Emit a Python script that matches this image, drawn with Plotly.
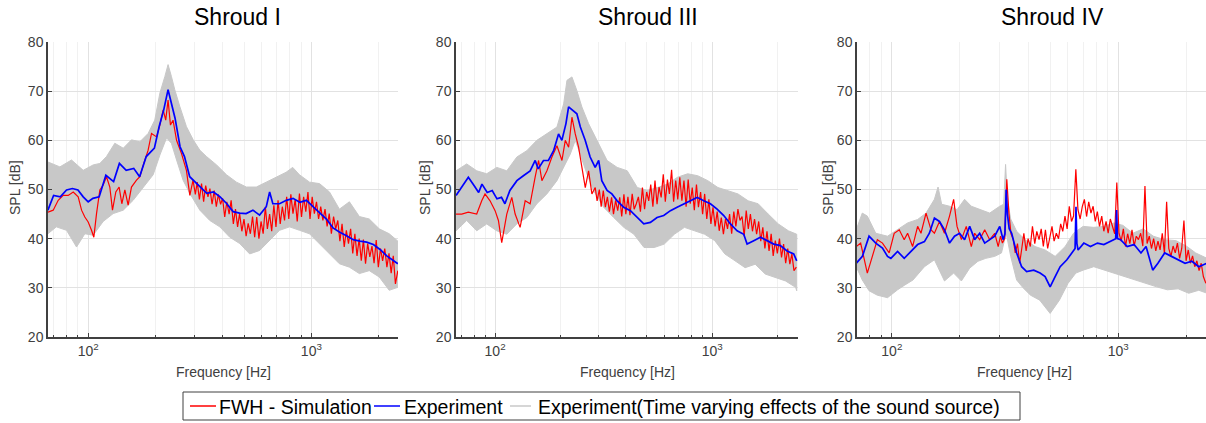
import plotly.graph_objects as go

# ---------------- data ----------------
# shared high-frequency sampling used for the dense simulation curves [Hz]
F_HF = [295, 302, 308, 315, 322, 329, 336, 344, 351, 359,
        367, 375, 383, 392, 400, 409, 418, 428, 437, 447,
        457, 467, 477, 488, 499, 510, 521, 533, 545, 557,
        569, 582, 595, 608, 622, 635, 650, 664, 679, 694,
        709, 725, 741, 758, 775, 792, 809, 827, 846, 864,
        884, 903, 923, 944, 965, 986, 1008, 1031, 1054, 1077,
        1101, 1126, 1151, 1176, 1202, 1229, 1257, 1285, 1313, 1342,
        1372, 1403, 1434, 1466, 1499, 1532, 1566, 1601, 1637, 1673,
        1710, 1748, 1787, 1827, 1868, 1909, 1952, 1995, 2040, 2085,
        2131, 2179, 2227, 2277, 2327, 2379, 2440]

# ---- Shroud I ----
F1_RED_LF = [66, 69.7, 73.4, 77.3, 81.4, 85.7, 90.2, 93.4, 96.6, 100,
             103.5, 106, 109, 112.8, 116.7, 120.8, 125, 128.5, 133, 137.6,
             141.5, 146, 151, 156.3, 164.6, 170.4, 177.5, 185.6, 192.2, 202.5,
             209.5, 216.8, 222.5, 228, 233.7, 240, 248.9, 261.9, 275.5, 285.4]
V1_RED_LF = [45.4, 45.8, 47.8, 48.8, 48.8, 49.5, 48.5, 45.8, 44.4, 43.4,
             41.7, 40.3, 45.1, 49.9, 50.9, 52.6, 50.5, 45.8, 49.5, 50.5,
             47.1, 49.9, 46.8, 50.5, 51.9, 52.6, 55.3, 58.0, 61.4, 60.7,
             63.1, 66.2, 64.1, 68.2, 63.1, 64.1, 60.0, 57.3, 53.9, 48.8]
V1_RED_HF = [51.9, 49.0, 51.5, 48.0, 51.2, 47.5, 50.8, 48.5, 50.2, 47.0,
             49.8, 46.5, 49.0, 47.0, 48.2, 44.4, 47.5, 45.0, 47.8, 43.0,
             46.0, 42.4, 45.1, 41.5, 44.0, 40.5, 43.1, 41.0, 44.5, 40.3,
             44.4, 40.0, 43.5, 41.0, 46.5, 42.0, 45.0, 41.5, 46.8, 42.4,
             47.8, 43.0, 46.5, 43.7, 48.5, 44.0, 49.0, 45.1, 48.0, 43.5,
             49.2, 44.4, 48.5, 45.5, 49.5, 44.0, 48.5, 45.1, 47.5, 44.0,
             46.5, 43.7, 46.0, 42.5, 45.1, 41.0, 44.5, 42.0, 43.7, 39.5,
             43.0, 38.3, 41.7, 39.0, 42.0, 37.0, 41.0, 36.5, 40.0, 35.5,
             39.8, 34.9, 39.0, 36.3, 38.5, 35.0, 39.7, 34.2, 38.0, 35.5,
             38.0, 34.2, 37.0, 33.0, 36.5, 30.8, 33.5]
F1_BLUE = [66, 70, 75, 80, 85, 90, 95, 100, 105, 112,
           120, 130, 138, 148, 160, 170, 182, 192, 198, 208,
           218, 228, 234, 245, 258, 270, 285, 300, 316, 340,
           364, 390, 418, 446, 477, 510, 547, 586, 628, 650,
           672, 720, 772, 828, 887, 950, 1017, 1090, 1168, 1250,
           1340, 1437, 1540, 1650, 1768, 1895, 2030, 2176, 2300, 2440]
V1_BLUE = [45.8, 48.8, 48.5, 49.9, 50.2, 49.9, 48.5, 47.5, 48.2, 48.5,
           52.9, 51.6, 55.3, 53.9, 54.3, 52.6, 56.7, 57.7, 58.4, 62.8,
           66.2, 70.3, 68.2, 64.5, 58.7, 56.7, 52.6, 51.6, 50.5, 49.2,
           49.5, 48.5, 47.1, 45.5, 45.2, 45.1, 45.8, 44.8, 46.5, 49.5,
           47.1, 47.1, 47.8, 48.2, 47.4, 47.8, 46.5, 45.2, 44.0, 42.2,
           41.3, 40.6, 39.8, 39.5, 39.3, 38.8, 37.8, 36.5, 35.8, 34.9]
F1_HI = [66, 74.7, 84.2, 95, 105.3, 112.8, 120.8, 131.6, 143.6, 156.3,
         170.4, 185.6, 198.7, 209.5, 220.6, 228, 236, 244.3, 257.3, 275.5,
         295.5, 316.4, 339, 376, 416.6, 461.5, 511.3, 566.5, 627.6, 695.3,
         770.3, 824.6, 884, 981, 1087, 1205, 1335, 1480, 1640, 1817,
         2013, 2232, 2440]
V1_HI = [55.6, 54.6, 56.0, 53.9, 55.0, 55.3, 56.7, 59.4, 58.4, 60.1,
         59.7, 61.4, 64.1, 69.6, 73.0, 75.4, 73.0, 70.3, 66.9, 62.8,
         60.1, 58.0, 56.7, 55.0, 53.0, 51.5, 50.5, 50.5, 51.5, 52.5,
         53.5, 54.5, 53.0, 51.5, 51.2, 49.5, 46.0, 47.5, 44.5, 44.0,
         42.0, 41.0, 39.5]
F1_LO = [66, 72, 80, 88.7, 96.6, 105.3, 116.7, 129.4, 143.6, 159,
         176.4, 195.5, 209.5, 224.5, 236, 248.9, 266.2, 285.4, 316.4, 350.6,
         388.8, 430.8, 477.5, 529, 586.4, 650, 720.3, 798.3, 884.7, 980.5,
         1087, 1205, 1335, 1480, 1640, 1817, 2013, 2232, 2440]
V1_LO = [41.0, 42.4, 41.7, 38.3, 41.0, 40.7, 43.5, 45.1, 45.8, 47.8,
         50.5, 53.0, 57.0, 60.5, 59.4, 56.0, 51.9, 49.2, 45.8, 43.7,
         42.4, 40.3, 39.0, 36.9, 37.6, 39.7, 41.7, 42.4, 41.7, 41.0,
         39.0, 36.9, 34.9, 34.2, 32.9, 33.5, 32.2, 29.5, 30.1]

# ---- Shroud III ----
F2_RED_LF = [66.1, 70.2, 75.3, 82.3, 86.8, 89.9, 94.8, 100, 103.6, 107.3,
             113.2, 119.4, 123.7, 130.4, 137.6, 145, 152.9, 158.6, 164.3, 173.3,
             182.7, 192.7, 203.2, 210.5, 218.1, 225.9, 234, 242.4, 251.1, 260.2,
             269.5, 279.2, 289.2]
V2_RED_LF = [45.0, 45.0, 45.4, 45.0, 47.7, 49.1, 47.7, 45.7, 43.7, 39.2,
             45.0, 48.4, 45.0, 42.3, 47.7, 47.1, 52.5, 55.9, 51.8, 53.8,
             56.6, 58.9, 55.9, 60.0, 58.6, 64.7, 61.3, 58.6, 54.5, 50.4,
             53.8, 49.1, 50.4]
V2_RED_HF = [47.7, 50.0, 46.5, 49.8, 46.4, 48.5, 45.5, 48.4, 45.0, 47.8,
             45.7, 48.4, 44.5, 49.0, 45.0, 48.5, 44.8, 49.1, 46.0, 47.1,
             48.5, 45.5, 50.4, 46.0, 49.5, 47.7, 51.0, 46.5, 51.8, 47.0,
             50.5, 48.4, 53.1, 47.5, 52.0, 49.1, 54.0, 47.5, 51.8, 48.0,
             52.5, 47.7, 51.8, 46.5, 52.0, 47.1, 50.4, 45.8, 51.0, 46.4,
             49.5, 45.0, 49.1, 44.0, 48.0, 43.0, 46.4, 42.5, 45.5, 41.6,
             44.3, 40.9, 44.0, 42.0, 45.0, 41.0, 45.5, 42.5, 46.0, 43.7,
             44.5, 40.5, 45.7, 42.0, 45.0, 41.5, 44.0, 40.9, 43.5, 39.5,
             42.3, 38.0, 41.5, 37.5, 41.0, 36.5, 39.6, 37.0, 40.0, 36.2,
             38.9, 35.0, 38.0, 34.8, 36.9, 33.5, 34.2]
F2_BLUE = [66.1, 70.2, 75.3, 80, 84, 87, 92, 97, 102, 107,
           111, 117, 126, 135, 145, 153, 158, 167, 176, 186,
           196, 203, 212, 218, 228, 238, 247, 260, 274, 289,
           300, 310, 328, 345, 365, 391, 420, 451, 484, 519,
           557, 598, 642, 689, 740, 794, 852, 914, 981, 1053,
           1130, 1213, 1302, 1397, 1447, 1553, 1667, 1789, 1920, 2060,
           2211, 2373, 2450]
V2_BLUE = [48.8, 50.5, 52.5, 50.8, 49.4, 51.1, 49.4, 49.8, 48.1, 48.4,
           47.1, 49.8, 51.8, 52.8, 53.8, 55.9, 54.2, 55.9, 55.9, 57.9,
           61.3, 60.0, 63.4, 66.8, 66.1, 65.4, 62.7, 60.0, 56.6, 54.5,
           55.9, 51.8, 49.8, 49.1, 47.7, 46.4, 45.7, 44.3, 43.0, 43.3,
           44.3, 44.7, 45.7, 46.4, 47.1, 47.7, 48.4, 47.7, 47.1, 46.0,
           44.7, 43.0, 41.6, 40.9, 38.9, 39.6, 40.3, 39.6, 38.9, 38.6,
           37.5, 36.9, 35.5]
F2_HI = [66.1, 74, 82.3, 91.5, 101.8, 113.2, 125.9, 140, 155.7, 173.2,
         192.7, 206.9, 214.3, 225.9, 238.1, 251, 269.5, 294.6, 327.9, 364.9,
         406, 451.8, 502.7, 559.4, 622.4, 692.6, 770.6, 857.5, 954.2, 1062,
         1181, 1314, 1463, 1627, 1811, 2015, 2242, 2450]
V2_HI = [53.8, 55.2, 53.8, 53.2, 54.5, 53.8, 56.6, 57.9, 60.0, 61.3,
         62.7, 67.4, 72.2, 72.9, 70.1, 66.8, 63.4, 60.0, 55.9, 54.5,
         53.8, 50.4, 49.8, 50.4, 51.1, 52.5, 53.2, 52.8, 51.8, 50.4,
         49.8, 49.1, 47.7, 47.1, 45.0, 43.0, 41.6, 40.9]
F2_LO = [66.1, 74, 82.3, 91.5, 101.8, 113.2, 125.9, 140, 155.7, 173.2,
         192.7, 206.9, 222, 234, 246.6, 264.6, 284, 316.1, 351.8, 391.6,
         435.9, 485.2, 540.1, 601.2, 669.2, 744.9, 829.1, 922.9, 1027, 1143,
         1273, 1417, 1577, 1755, 1954, 2175, 2421, 2450]
V2_LO = [41.6, 43.7, 41.6, 43.0, 41.6, 40.9, 43.0, 44.3, 47.1, 49.1,
         51.8, 54.5, 57.2, 60.0, 57.2, 53.2, 49.8, 46.4, 44.3, 42.3,
         40.9, 38.2, 38.2, 38.9, 40.9, 42.3, 41.6, 40.9, 39.6, 36.9,
         35.5, 34.1, 34.8, 32.8, 32.1, 31.4, 30.1, 29.4]

# ---- Shroud IV ----
F3_RED_LF = [69.6, 72.8, 77.9, 82.1, 86.3, 90.9, 97.3, 102.4, 107.8, 113.4,
             117.4, 123.5, 130, 134.5, 141.6, 149, 154.2, 162.3, 170.8, 179.8,
             187.5, 194.1, 202.9, 213.2, 224.4, 232.2, 244.4, 257.2, 270.6, 284.8]
V3_RED_LF = [38.4, 39.1, 33.0, 36.4, 39.8, 39.1, 37.1, 41.1, 41.8, 39.8,
             41.1, 38.4, 42.5, 41.1, 45.2, 41.8, 41.1, 43.5, 41.1, 44.6,
             48.0, 42.5, 39.8, 42.5, 38.4, 41.1, 39.8, 41.8, 39.8, 41.1]
V3_RED_HF = [38.4, 40.5, 39.1, 40.0, 52.1, 45.2, 41.0, 39.8, 37.1, 39.0,
             35.0, 38.0, 41.1, 37.5, 40.0, 38.4, 42.5, 39.0, 41.5, 39.8,
             42.0, 38.4, 41.8, 38.0, 40.5, 42.5, 39.5, 41.1, 40.0, 43.0,
             41.5, 44.6, 42.0, 46.6, 43.5, 44.6, 54.1, 45.9, 44.0, 46.5,
             48.0, 44.5, 47.5, 45.2, 46.6, 43.5, 45.5, 42.5, 44.6, 41.5,
             43.5, 41.1, 44.0, 42.5, 41.0, 51.4, 41.1, 39.5, 42.0, 38.4,
             41.0, 39.0, 41.8, 38.5, 40.5, 39.8, 41.1, 38.5, 50.7, 39.0,
             40.5, 38.0, 40.0, 37.5, 39.5, 37.7, 41.1, 37.0, 47.5, 38.0,
             36.4, 38.5, 37.1, 39.1, 36.0, 38.0, 43.7, 35.5, 37.7, 35.0,
             36.5, 34.3, 35.5, 33.5, 35.0, 32.3, 30.9]
F3_BLUE = [69.6, 74.1, 79.3, 84.9, 90.9, 95.7, 99, 106, 113.4, 121.5,
           130, 139.3, 146.5, 154.2, 162.3, 170.8, 179.8, 189.2, 199.2, 209.6,
           220.7, 232.2, 244.4, 257.2, 270.6, 284.8, 299.7, 310.1, 316, 320,
           324, 330, 338.4, 355.9, 374.5, 394, 423.5, 451.8, 475.5, 500.4,
           526.6, 554.2, 593.4, 624.5, 645, 651, 657, 665, 704.8, 754,
           810, 864.5, 924, 975, 984, 993, 1025, 1096, 1175, 1261,
           1328, 1421, 1498, 1605, 1720, 1843, 1975, 2117, 2269, 2470]
V3_BLUE = [35.0, 36.4, 40.5, 39.1, 38.1, 36.4, 36.0, 37.4, 36.0, 37.4,
           38.8, 39.4, 41.1, 44.2, 43.5, 41.8, 39.1, 40.5, 41.1, 39.8,
           42.5, 39.8, 41.1, 39.1, 39.8, 40.5, 42.5, 39.8, 41.0, 50.0,
           45.0, 42.0, 41.1, 37.1, 34.3, 33.3, 33.6, 33.0, 32.3, 30.2,
           32.3, 34.3, 35.7, 37.1, 38.0, 46.5, 39.0, 37.7, 39.1, 38.4,
           39.1, 38.8, 39.4, 40.0, 45.8, 40.0, 39.8, 38.4, 38.8, 37.1,
           38.4, 33.6, 35.0, 37.1, 36.4, 35.7, 35.0, 35.4, 34.3, 35.0]
F3_HI = [69.6, 74, 77.9, 84.9, 95.7, 106, 117.4, 130, 141.6, 154.2,
         160, 166, 179.8, 194.1, 209.6, 224.4, 244.4, 270.6, 299.7, 312,
         318, 324, 335, 355.9, 387.7, 429.3, 475.5, 526.6, 583.2, 635,
         700, 780, 864.5, 957.5, 1050, 1160, 1290, 1430, 1600, 1800,
         2000, 2200, 2470]
V3_HI = [41.8, 45.2, 44.6, 41.1, 40.5, 41.8, 43.2, 43.9, 45.2, 48.0,
         50.5, 47.0, 46.6, 45.9, 48.0, 46.6, 45.9, 45.2, 46.6, 47.0,
         55.1, 48.0, 44.0, 41.5, 39.8, 38.4, 37.7, 36.4, 38.4, 41.1,
         42.5, 42.3, 42.5, 43.2, 42.7, 41.1, 42.0, 40.5, 39.8, 39.6,
         38.5, 37.1, 36.0]
F3_LO = [69.6, 74, 79.3, 86.3, 95.7, 106, 113.4, 124, 139.3, 154.2,
         170.8, 187.5, 202.9, 220.7, 240, 260, 284.8, 305, 320, 335,
         355.9, 380, 410, 450, 500.4, 550, 600, 650, 700, 780,
         864.5, 960, 1070, 1190, 1330, 1480, 1650, 1840, 2050, 2270,
         2470]
V3_LO = [34.3, 31.6, 29.4, 28.5, 28.0, 29.6, 30.5, 31.6, 34.3, 35.7,
         31.4, 33.0, 31.4, 34.0, 35.4, 36.0, 36.4, 37.1, 41.1, 36.4,
         31.6, 30.0, 28.5, 27.5, 24.8, 27.5, 30.9, 33.0, 33.6, 34.3,
         33.6, 33.0, 32.3, 31.6, 30.9, 30.2, 29.6, 29.8, 28.9, 29.5,
         28.9]

TITLES = ["Shroud I", "Shroud III", "Shroud IV"]
LEGEND_NAMES = ["FWH - Simulation", "Experiment",
                "Experiment(Time varying effects of the sound source)"]
Y_TICKS = [20, 30, 40, 50, 60, 70, 80]
X_TICKS = [100, 1000]
X_TICKTEXT = ["10<sup>2</sup>", "10<sup>3</sup>"]
X_MINOR = [70, 80, 90, 200, 300, 400, 500, 600, 700, 800, 900, 2000]

# ---------------- layout geometry ----------------
W, H = 1206, 423
FONT = "Liberation Sans, Arial, Helvetica, sans-serif"
RED = "rgb(255,0,0)"
BLUE = "rgb(0,0,255)"
GRAY = "rgb(200,200,200)"
AXC = "#404040"

panels = [
    dict(red=(F1_RED_LF + F_HF, V1_RED_LF + V1_RED_HF), blue=(F1_BLUE, V1_BLUE),
         hi=(F1_HI, V1_HI), lo=(F1_LO, V1_LO),
         px=(48, 398), rng=(1.82, 3.388), tx=237, ylab=15),
    dict(red=(F2_RED_LF + F_HF, V2_RED_LF + V2_RED_HF), blue=(F2_BLUE, V2_BLUE),
         hi=(F2_HI, V2_HI), lo=(F2_LO, V2_LO),
         px=(456, 798), rng=(1.82, 3.395), tx=648, ylab=425),
    dict(red=(F3_RED_LF + F_HF, V3_RED_LF + V3_RED_HF), blue=(F3_BLUE, V3_BLUE),
         hi=(F3_HI, V3_HI), lo=(F3_LO, V3_LO),
         px=(857, 1206), rng=(1.846, 3.388), tx=1052, ylab=828),
]
PLOT_TOP, PLOT_BOT = 42, 337

fig = go.Figure()
annotations = []
shapes = []
layout_axes = {}

for i, p in enumerate(panels):
    n = "" if i == 0 else str(i + 1)
    xa, ya = "x" + n, "y" + n
    hf, hv = p["hi"]
    lf, lv = p["lo"]
    fig.add_trace(go.Scatter(
        x=list(hf) + list(lf)[::-1], y=list(hv) + list(lv)[::-1],
        mode="lines", fill="toself", fillcolor=GRAY,
        line=dict(color=GRAY, width=1), xaxis=xa, yaxis=ya,
        name=LEGEND_NAMES[2], showlegend=False, hoverinfo="skip"))
    fig.add_trace(go.Scatter(
        x=p["red"][0], y=p["red"][1], mode="lines",
        line=dict(color=RED, width=1.2), xaxis=xa, yaxis=ya,
        name=LEGEND_NAMES[0], showlegend=False))
    fig.add_trace(go.Scatter(
        x=p["blue"][0], y=p["blue"][1], mode="lines",
        line=dict(color=BLUE, width=1.7), xaxis=xa, yaxis=ya,
        name=LEGEND_NAMES[1], showlegend=False))

    x0, x1 = p["px"]
    layout_axes["xaxis" + n] = dict(
        type="log", range=list(p["rng"]), domain=[x0 / W, x1 / W],
        anchor=ya, showline=True, linecolor=AXC, linewidth=1.5,
        showgrid=True, gridcolor="#e2e2e2", gridwidth=1,
        tickvals=X_TICKS, ticktext=X_TICKTEXT,
        ticks="inside", ticklen=4, tickcolor=AXC,
        tickfont=dict(size=14, color=AXC, family=FONT),
        minor=dict(tickvals=X_MINOR, showgrid=True, gridcolor="#f1f1f1",
                   ticks="inside", ticklen=2, tickcolor=AXC),
        zeroline=False, fixedrange=True)
    layout_axes["yaxis" + n] = dict(
        range=[20, 80], domain=[(H - PLOT_BOT) / H, (H - PLOT_TOP) / H],
        anchor=xa, showline=True, linecolor=AXC, linewidth=1.5,
        showgrid=True, gridcolor="#e2e2e2", gridwidth=1,
        tickvals=Y_TICKS, ticks="inside", ticklen=4, tickcolor=AXC,
        tickfont=dict(size=14, color=AXC, family=FONT),
        zeroline=False, fixedrange=True)

    annotations.append(dict(
        text=TITLES[i], x=p["tx"] / W, y=(H - 17) / H, xref="paper", yref="paper",
        xanchor="center", yanchor="middle", showarrow=False,
        font=dict(size=23, color="black", family=FONT)))
    annotations.append(dict(
        text="Frequency [Hz]", x=(x0 + x1) / 2 / W + (0 if i < 2 else -0.006),
        y=(H - 372) / H, xref="paper", yref="paper",
        xanchor="center", yanchor="middle", showarrow=False,
        font=dict(size=14, color=AXC, family=FONT)))
    annotations.append(dict(
        text="SPL [dB]", x=p["ylab"] / W, y=(H - 188) / H, xref="paper", yref="paper",
        xanchor="center", yanchor="middle", showarrow=False, textangle=-90,
        font=dict(size=14, color=AXC, family=FONT)))

# ---- legend box (drawn to match the reference's compact MATLAB legend) ----
LEG_BOX = (183, 392, 1020, 420)          # px: left, top, right, bottom
LEG_ITEMS = [                            # (line x0, line x1, text x, colour, width)
    (190, 216, 217, RED, 1.5),
    (374, 400, 402, BLUE, 1.5),
    (510, 531, 536, GRAY, 1.5),
]
leg_y = (LEG_BOX[1] + LEG_BOX[3]) / 2
shapes.append(dict(type="rect", xref="paper", yref="paper",
                   x0=LEG_BOX[0] / W, x1=LEG_BOX[2] / W,
                   y0=(H - LEG_BOX[3]) / H, y1=(H - LEG_BOX[1]) / H,
                   line=dict(color=AXC, width=1), fillcolor="white", layer="above"))
for (lx0, lx1, tx, col, lw), name in zip(LEG_ITEMS, LEGEND_NAMES):
    shapes.append(dict(type="line", xref="paper", yref="paper",
                       x0=lx0 / W, x1=lx1 / W, y0=(H - leg_y) / H, y1=(H - leg_y) / H,
                       line=dict(color=col, width=lw), layer="above"))
    annotations.append(dict(
        text=name, x=tx / W, y=(H - leg_y - 0.5) / H, xref="paper", yref="paper",
        xanchor="left", yanchor="middle", showarrow=False,
        font=dict(size=19.5, color="black", family=FONT)))

fig.update_layout(
    width=W, height=H, margin=dict(l=0, r=0, t=0, b=0, autoexpand=False),
    paper_bgcolor="white", plot_bgcolor="white",
    font=dict(family=FONT, color="black"),
    showlegend=False,
    annotations=annotations, shapes=shapes,
    **layout_axes)

fig.write_html("out.html",
               config={"displayModeBar": False},
               post_script="document.body.style.margin='0';"
                           "document.body.style.overflow='hidden';")
